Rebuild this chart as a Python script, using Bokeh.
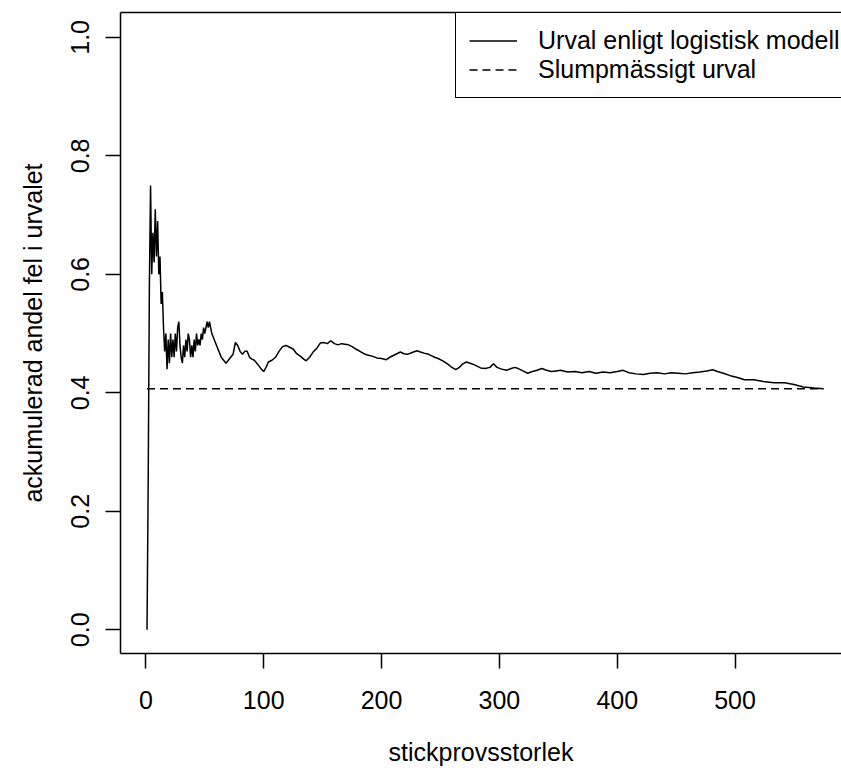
from bokeh.plotting import figure
from bokeh.models import (Range1d, FixedTicker, LinearAxis, Legend, LegendItem,
                          ColumnDataSource)
from bokeh.embed import file_html
from bokeh.resources import INLINE

# ---- data ----
sample_size = [1, 2, 3, 4, 5, 6, 7, 8, 9, 10, 11, 12, 13, 14, 15, 16, 17, 18, 19, 20,
               21, 22, 23, 24, 25, 26, 27, 28, 29, 30, 31, 32, 33, 34, 35, 36, 37, 38, 39, 40,
               41, 42, 43, 44, 45, 46, 47, 48, 49, 50, 51, 52, 53, 54, 55, 56, 58, 60, 62, 64,
               66, 68, 70, 72, 74, 76, 78, 80, 82, 84, 86, 88, 90, 92, 95, 98, 100, 102, 104, 107,
               110, 113, 116, 119, 122, 125, 128, 131, 134, 136, 139, 142, 145, 148, 151, 154, 157, 160, 163, 166,
               169, 172, 175, 178, 181, 185, 188, 192, 196, 200, 204, 207, 210, 213, 216, 219, 222, 226, 230, 233,
               236, 240, 244, 248, 252, 256, 259, 263, 266, 269, 272, 275, 278, 281, 284, 288, 292, 295, 298, 302,
               306, 310, 313, 316, 320, 324, 328, 332, 336, 340, 344, 348, 352, 358, 364, 370, 376, 382, 388, 394,
               400, 405, 410, 416, 422, 428, 434, 440, 446, 452, 458, 464, 470, 476, 481, 485, 490, 496, 502, 508,
               516, 524, 533, 542, 550, 558, 567, 575]
error_share = [0.0, 0.25, 0.58, 0.75, 0.60, 0.67, 0.62, 0.71, 0.63, 0.69, 0.60, 0.63, 0.55, 0.57, 0.51, 0.47, 0.50, 0.44, 0.49, 0.45,
               0.50, 0.46, 0.49, 0.46, 0.50, 0.47, 0.51, 0.52, 0.48, 0.46, 0.45, 0.48, 0.46, 0.49, 0.47, 0.50, 0.49, 0.46, 0.48, 0.46,
               0.49, 0.47, 0.50, 0.48, 0.49, 0.48, 0.50, 0.49, 0.51, 0.50, 0.51, 0.52, 0.51, 0.52, 0.51, 0.50, 0.49, 0.48, 0.47, 0.46,
               0.455, 0.45, 0.455, 0.46, 0.465, 0.485, 0.48, 0.47, 0.465, 0.47, 0.47, 0.46, 0.457, 0.455, 0.448, 0.44, 0.436, 0.443, 0.452, 0.455,
               0.46, 0.47, 0.478, 0.48, 0.477, 0.474, 0.466, 0.462, 0.457, 0.454, 0.46, 0.469, 0.475, 0.484, 0.485, 0.483, 0.488, 0.483, 0.481, 0.483,
               0.482, 0.481, 0.478, 0.474, 0.471, 0.466, 0.464, 0.462, 0.459, 0.458, 0.456, 0.46, 0.463, 0.466, 0.469, 0.466, 0.465, 0.468, 0.471, 0.469,
               0.467, 0.465, 0.461, 0.458, 0.454, 0.449, 0.444, 0.439, 0.443, 0.449, 0.452, 0.45, 0.448, 0.445, 0.442, 0.441, 0.443, 0.449, 0.443, 0.44,
               0.438, 0.441, 0.443, 0.441, 0.437, 0.433, 0.436, 0.438, 0.441, 0.438, 0.436, 0.437, 0.438, 0.435, 0.436, 0.434, 0.436, 0.433, 0.435, 0.434,
               0.436, 0.438, 0.434, 0.432, 0.431, 0.433, 0.434, 0.432, 0.434, 0.433, 0.432, 0.434, 0.435, 0.437, 0.439, 0.436, 0.433, 0.429, 0.426, 0.422,
               0.422, 0.419, 0.417, 0.417, 0.414, 0.41, 0.408, 0.407]
random_share = 0.407
random_n = [1, 575]
x_ticks = [0, 100, 200, 300, 400, 500]
y_ticks = [0.0, 0.2, 0.4, 0.6, 0.8, 1.0]
y_tick_labels = ["0.0", "0.2", "0.4", "0.6", "0.8", "1.0"]
legend_labels = ["Urval enligt logistisk modell", "Slumpmässigt urval"]
x_title = "stickprovsstorlek"
y_title = "ackumulerad andel fel i urvalet"

FONT = "Liberation Sans"
FS = "25px"

p = figure(width=841, height=769, output_backend="svg", toolbar_location=None,
           x_range=Range1d(-21.5, 590.3), y_range=Range1d(-0.04, 1.042),
           min_border_left=120, min_border_right=0, min_border_top=12, min_border_bottom=116,
           x_axis_label=x_title, y_axis_label=y_title)
p.background_fill_color = "white"
p.border_fill_color = "white"
p.outline_line_color = None
p.grid.visible = False

src = ColumnDataSource(dict(n=sample_size, share=error_share))
r_model = p.line("n", "share", source=src, line_color="black", line_width=1.5)
r_random = p.line(random_n, [random_share] * len(random_n), line_color="black",
                  line_width=1.5, line_dash="8 5")

for ax in (p.xaxis[0], p.yaxis[0]):
    ax.axis_line_color = "black"
    ax.axis_line_width = 1.5
    ax.major_tick_line_color = "black"
    ax.major_tick_line_width = 1.5
    ax.major_tick_out = 15
    ax.major_tick_in = 0
    ax.minor_tick_out = 0
    ax.minor_tick_in = 0
    ax.major_label_text_font = FONT
    ax.major_label_text_font_size = FS
    ax.major_label_text_color = "black"
    ax.axis_label_text_font = FONT
    ax.axis_label_text_font_size = FS
    ax.axis_label_text_font_style = "normal"
    ax.axis_label_text_color = "black"

p.xaxis[0].ticker = FixedTicker(ticks=x_ticks)
p.xaxis[0].major_label_standoff = 22
p.xaxis[0].axis_label_standoff = 26
p.yaxis[0].ticker = FixedTicker(ticks=y_ticks)
p.yaxis[0].major_label_overrides = {t: s for t, s in zip(y_ticks, y_tick_labels)}
p.yaxis[0].major_label_orientation = "vertical"
p.yaxis[0].major_label_standoff = 16
p.yaxis[0].axis_label_standoff = 22

top = LinearAxis(ticker=FixedTicker(ticks=[]), axis_line_color="black", axis_line_width=1.5,
                 major_tick_out=0, major_tick_in=0, minor_tick_out=0, minor_tick_in=0,
                 major_label_standoff=0, axis_label_standoff=0)
p.add_layout(top, "above")

legend = Legend(items=[LegendItem(label=legend_labels[0], renderers=[r_model]),
                       LegendItem(label=legend_labels[1], renderers=[r_random])],
                location=(335, 555), orientation="vertical",
                border_line_color="black", border_line_width=1.5, border_line_alpha=1.0,
                background_fill_color="white", background_fill_alpha=1.0,
                padding=13, spacing=0, margin=0,
                glyph_width=48, glyph_height=21, label_height=21, label_standoff=21,
                label_width=330,
                label_text_font=FONT, label_text_font_size=FS, label_text_color="black")
p.add_layout(legend, "center")

open("out.html", "w").write(file_html(p, INLINE))
